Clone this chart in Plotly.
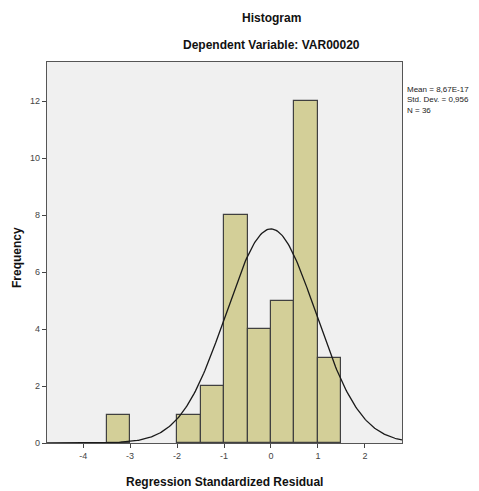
import numpy as np
import plotly.graph_objects as go

bin_left = [-3.5, -2.0, -1.5, -1.0, -0.5, 0.0, 0.5, 1.0]
counts = [1, 1, 2, 8, 4, 5, 12, 3]
bin_width = 0.5
mean = 8.67e-17
sd = 0.956
n = 36
x_ticks = [-4, -3, -2, -1, 0, 1, 2]
y_ticks = [0, 2, 4, 6, 8, 10, 12]

centers = [b + bin_width / 2 for b in bin_left]
xc = np.linspace(-4.77, 2.79, 300)
yc = n * bin_width / (sd * np.sqrt(2 * np.pi)) * np.exp(-0.5 * ((xc - mean) / sd) ** 2)

fig = go.Figure()
fig.add_trace(go.Bar(x=centers, y=counts, width=bin_width,
                     marker=dict(color="#D3CF98", line=dict(color="#404040", width=1.2)),
                     hoverinfo="skip"))
fig.add_trace(go.Scatter(x=xc, y=yc, mode="lines", line=dict(color="#1a1a1a", width=1.3),
                         hoverinfo="skip"))

font = "Liberation Sans, Arial, sans-serif"
OFF = 8  # page body margin
FW, FH = 479 - OFF, 491 - OFF
# plot area in window pixels: left 47, right 402, top 62, bottom 443
L, R, T, B = 47 - OFF, FW - (402 - OFF), 62 - OFF, FH - (443 - OFF)
W = FW - L - R
H = FH - T - B


def px(x):
    return (x - 47) / W


def py(y):
    return (443 - y) / H


fig.update_layout(
    width=FW, height=FH,
    margin=dict(l=L, r=R, t=T, b=B, autoexpand=False),
    paper_bgcolor="white", plot_bgcolor="#F0F0F0",
    showlegend=False, bargap=0,
    font=dict(family=font, color="#333333", size=9),
    xaxis=dict(range=[-4.77, 2.79], tickvals=x_ticks, ticktext=[str(v) for v in x_ticks],
               showgrid=False, zeroline=False, showline=True, linecolor="#555555", linewidth=1.2,
               mirror=True, ticks="outside", ticklen=4, tickcolor="#444444", automargin=False,
               tickfont=dict(size=9, color="#444444")),
    yaxis=dict(range=[0, 13.37], tickvals=y_ticks, showgrid=False, zeroline=False,
               showline=True, linecolor="#555555", linewidth=1.2, mirror=True, automargin=False,
               ticks="outside", ticklen=4, tickcolor="#444444",
               tickfont=dict(size=9, color="#444444")),
    annotations=[
        dict(text="<b>Histogram</b>", xref="paper", yref="paper", x=px(271), y=py(18),
             xanchor="center", yanchor="middle", showarrow=False, font=dict(size=12, color="#111111")),
        dict(text="<b>Dependent Variable: VAR00020</b>", xref="paper", yref="paper", x=px(271),
             y=py(45), xanchor="center", yanchor="middle", showarrow=False,
             font=dict(size=12, color="#111111")),
        dict(text="<b>Regression Standardized Residual</b>", xref="paper", yref="paper", x=px(224),
             y=py(482), xanchor="center", yanchor="middle", showarrow=False,
             font=dict(size=12, color="#111111")),
        dict(text="<b>Frequency</b>", xref="paper", yref="paper", x=px(17),
             y=py(258), xanchor="center", yanchor="middle", showarrow=False, textangle=-90,
             font=dict(size=12, color="#111111")),
        dict(text="Mean = 8,67E-17<br>Std. Dev. = 0,956<br>N = 36", xref="paper", yref="paper",
             x=px(405), y=py(83), xanchor="left", yanchor="top", align="left", showarrow=False,
             font=dict(size=8, color="#222222")),
    ],
)
fig.write_html("out.html")
